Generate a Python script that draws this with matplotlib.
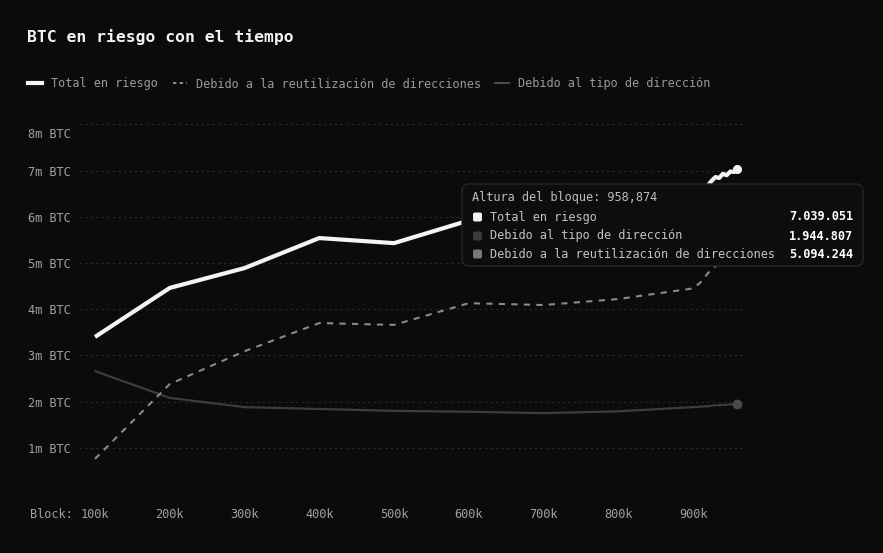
import matplotlib
matplotlib.use("Agg")
import matplotlib.pyplot as plt
from matplotlib.patches import FancyBboxPatch
from matplotlib.lines import Line2D
from matplotlib.transforms import IdentityTransform, ScaledTranslation

# ---------------- data ----------------
blocks_k = [100, 200, 300, 400, 500, 600, 700, 800, 900, 910, 920, 925, 930,
            935, 940, 945, 950, 955, 958.874]
total = [3.40, 4.46, 4.89, 5.54, 5.43, 5.92, 5.84, 6.01, 6.33, 6.47, 6.68, 6.78,
         6.86, 6.84, 6.93, 6.90, 6.98, 6.97, 7.039]
reuse = [0.76, 2.38, 3.09, 3.70, 3.66, 4.13, 4.09, 4.22, 4.45, 4.58, 4.78, 4.87,
         4.93, 4.96, 5.00, 5.02, 5.05, 5.07, 5.094]
addr_type = [2.66, 2.08, 1.88, 1.84, 1.80, 1.78, 1.75, 1.79, 1.88, 1.89, 1.90,
             1.91, 1.92, 1.92, 1.93, 1.93, 1.94, 1.94, 1.945]

xticks = [100, 200, 300, 400, 500, 600, 700, 800, 900]
xtick_labels = ["100k", "200k", "300k", "400k", "500k", "600k", "700k", "800k", "900k"]
yticks = [1, 2, 3, 4, 5, 6, 7, 8]
ytick_labels = ["1m BTC", "2m BTC", "3m BTC", "4m BTC", "5m BTC", "6m BTC", "7m BTC", "8m BTC"]

series_names = ["Total en riesgo", "Debido a la reutilización de direcciones", "Debido al tipo de dirección"]
title = "BTC en riesgo con el tiempo"
tooltip_header = "Altura del bloque: 958,874"
tooltip_rows = [("Total en riesgo", "7.039.051"),
                ("Debido al tipo de dirección", "1.944.807"),
                ("Debido a la reutilización de direcciones", "5.094.244")]

# ---------------- style ----------------
W, H = 883, 553
BG = "#0b0b0b"
MONO = "DejaVu Sans Mono"
plt.rcParams["font.family"] = [MONO]

fig = plt.figure(figsize=(W / 100, H / 100), dpi=100, facecolor=BG)

def fx(x):
    return x / W

def fy(y):
    return 1 - y / H

ax_left, ax_right, ax_top, ax_bottom = 79, 746, 124.4, 494
ax = fig.add_axes([fx(ax_left), fy(ax_bottom), (ax_right - ax_left) / W, (ax_bottom - ax_top) / H])
ax.set_facecolor(BG)
ax.set_xlim(78.6, 970.9)
ax.set_ylim(0, 8)

for s in ax.spines.values():
    s.set_visible(False)

ax.set_yticks([0] + yticks)
ax.set_yticklabels([""] + ytick_labels)
ax.set_xticks(xticks)
ax.set_xticklabels(xtick_labels)
ax.tick_params(axis="both", length=0, labelsize=8.6, colors="#9aa3ab")
ax.tick_params(axis="y", pad=5.8)
ax.tick_params(axis="x", pad=10)
ax.yaxis.grid(True, color="#2a2a2a", linewidth=0.8, linestyle=(0, (2, 3)))
ax.xaxis.grid(False)

# shift the top (8m) label downward like in the reference
for lbl in ax.get_yticklabels():
    if lbl.get_text() == "8m BTC":
        lbl.set_transform(lbl.get_transform() + ScaledTranslation(0, -9 / 100, fig.dpi_scale_trans))

# "Block:" prefix
ax.annotate("Block:", xy=(100, 0), xycoords=("data", "axes fraction"),
            xytext=(-22, -20), textcoords="offset pixels", ha="right", va="center",
            fontsize=8.6, color="#9aa3ab")

# lines
ax.plot(blocks_k, addr_type, color="#3c3c3c", linewidth=1.6, solid_capstyle="round", zorder=2)
ax.plot(blocks_k, reuse, color="#8a8a8a", linewidth=1.5, linestyle=(0, (3, 3)), zorder=3)
ax.plot(blocks_k, total, color="#f4f4f4", linewidth=3.0, solid_capstyle="butt", zorder=4)
ax.plot([blocks_k[-1]], [addr_type[-1]], marker="o", markersize=6, color="#4a4a4a", zorder=5)
ax.plot([blocks_k[-1]], [reuse[-1]], marker="o", markersize=6, color="#8a8a8a", zorder=5)
ax.plot([blocks_k[-1]], [total[-1]], marker="o", markersize=5.5, color="#f4f4f4", zorder=5)

# title
fig.text(fx(27), fy(37), title, fontsize=11.8, fontweight="bold", color="#f2f2f2",
         ha="left", va="center")

# legend
h_total = Line2D([], [], color="#f4f4f4", linewidth=3.0)
h_reuse = Line2D([], [], color="#8a8a8a", linewidth=1.5, linestyle=(0, (1.6, 1.6)))
h_type = Line2D([], [], color="#4a4a4a", linewidth=1.5)
leg = fig.legend([h_total, h_reuse, h_type], series_names, loc="center left",
                 bbox_to_anchor=(fx(28), fy(84)), ncol=3, frameon=False,
                 borderpad=0, borderaxespad=0, handlelength=1.2, handletextpad=0.75,
                 columnspacing=1.2, fontsize=8.6)
for t in leg.get_texts():
    t.set_color("#9a9a9a")

# tooltip
tt_x0, tt_y0, tt_x1, tt_y1 = 462, 184, 863, 266
box = FancyBboxPatch((tt_x0, H - tt_y1), tt_x1 - tt_x0, tt_y1 - tt_y0,
                     boxstyle="round,pad=0,rounding_size=7",
                     transform=IdentityTransform(), facecolor="#0d0d0d",
                     edgecolor="#262626", linewidth=1.0, zorder=10)
fig.add_artist(box)
fig.text(fx(472), fy(198), tooltip_header, fontsize=8.6, color="#bdbdbd",
         ha="left", va="center", zorder=11)
sq_colors = ["#f2f2f2", "#3a3a3a", "#7a7a7a"]
row_y = [217, 236, 254]
for (name, val), c, ry in zip(tooltip_rows, sq_colors, row_y):
    sq = FancyBboxPatch((473, H - ry - 4.5), 9, 9, boxstyle="round,pad=0,rounding_size=2",
                        transform=IdentityTransform(), facecolor=c, edgecolor="none", zorder=11)
    fig.add_artist(sq)
    fig.text(fx(490), fy(ry), name, fontsize=8.6, color="#c4c4c4", ha="left", va="center", zorder=11)
    fig.text(fx(853), fy(ry), val, fontsize=8.6, color="#ffffff", fontweight="bold",
             ha="right", va="center", zorder=11)

fig.savefig("out.png", dpi=100, facecolor=BG)
